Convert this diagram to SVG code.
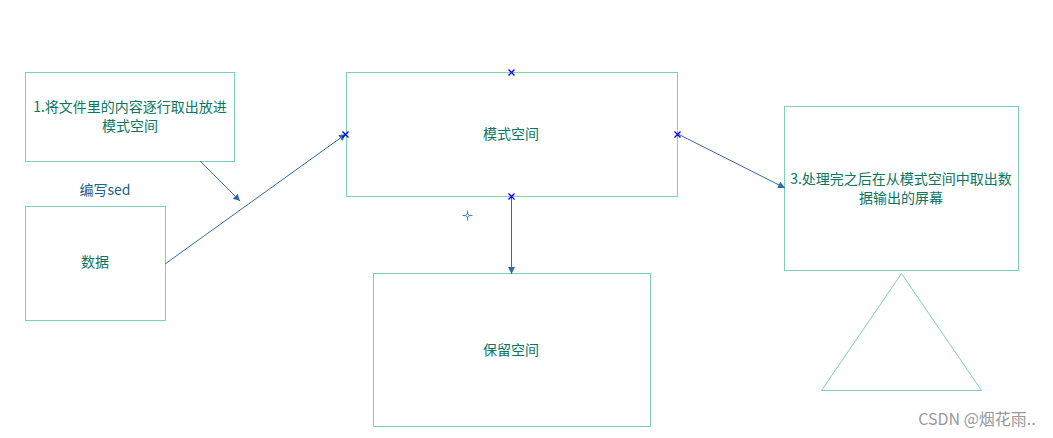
<svg xmlns="http://www.w3.org/2000/svg" width="1053" height="438" viewBox="0 0 1053 438">
<style>
.box{fill:#ffffff;stroke:#7fd0b6;stroke-width:1}
.t{font-family:"Noto Sans CJK SC","Liberation Sans",sans-serif;font-size:14px;fill:#0a7560;text-anchor:middle}
.conn{stroke:#2e6ca3;stroke-width:1;fill:none}
.x{stroke:#0000ff;stroke-width:1.3;fill:none}
</style>
<defs>
<marker id="ah" viewBox="0 0 10 10" refX="10" refY="5" markerWidth="7" markerHeight="7" markerUnits="userSpaceOnUse" orient="auto">
<path d="M0,0 L10,5 L0,10 Z" fill="#2e6ca3"/>
</marker>
</defs>
<rect width="1053" height="438" fill="#ffffff"/>
<g id="node-step1">
<rect class="box" x="25.5" y="72.5" width="209" height="89"/>
<text class="t" x="130" y="112">1.将文件里的内容逐行取出放进</text>
<text class="t" x="130" y="131">模式空间</text>
</g>
<g id="label-sed">
<text x="105" y="195" font-family="'Noto Sans CJK SC','Liberation Sans',sans-serif" font-size="14" fill="#1f5d8a" text-anchor="middle">编写sed</text>
</g>
<g id="node-data">
<rect class="box" x="25.5" y="206.5" width="140" height="114"/>
<text class="t" x="95" y="267">数据</text>
</g>
<g id="node-pattern">
<rect class="box" x="346.5" y="72.5" width="331" height="124"/>
<text class="t" x="511" y="139">模式空间</text>
</g>
<g id="node-hold">
<rect class="box" x="373.5" y="273.5" width="277" height="153"/>
<text class="t" x="511" y="355">保留空间</text>
</g>
<g id="node-step3">
<rect class="box" x="784.5" y="106.5" width="234" height="164"/>
<text class="t" x="901" y="184">3.处理完之后在从模式空间中取出数</text>
<text class="t" x="901" y="203">据输出的屏幕</text>
</g>
<g id="node-triangle">
<polygon points="901.5,273.5 821.5,390.5 981.5,390.5" fill="none" stroke="#7fd0b6" stroke-width="1"/>
</g>
<g id="connectors">
<line class="conn" x1="200" y1="161" x2="240" y2="201" marker-end="url(#ah)"/>
<line class="conn" x1="165" y1="264" x2="346" y2="134" marker-end="url(#ah)"/>
<line class="conn" x1="511.5" y1="196" x2="511.5" y2="274" marker-end="url(#ah)"/>
<line class="conn" x1="678" y1="134" x2="785" y2="188" marker-end="url(#ah)"/>
</g>
<g id="handles">
<path class="x" d="M508.5,69.5 l6,6 M514.5,69.5 l-6,6"/>
<path class="x" d="M342.5,131.5 l6,6 M348.5,131.5 l-6,6"/>
<path class="x" d="M674.5,131.5 l6,6 M680.5,131.5 l-6,6"/>
<path class="x" d="M508.5,193.5 l6,6 M514.5,193.5 l-6,6"/>
<g stroke="#3b7fe0" stroke-width="1" fill="none">
<path d="M467.5,210.5 v10 M462.5,215.5 h10"/>
<circle cx="467.5" cy="215.5" r="1.6" fill="#ffffff"/>
</g>
</g>
<text x="977" y="425" font-family="'Noto Sans CJK SC','Liberation Sans',sans-serif" font-size="16" fill="#999999" text-anchor="middle">CSDN @烟花雨..</text>
</svg>
